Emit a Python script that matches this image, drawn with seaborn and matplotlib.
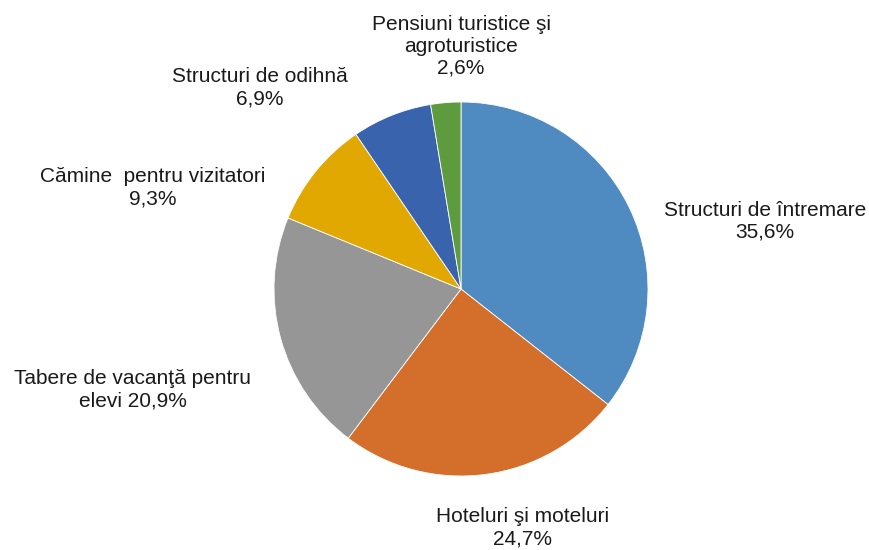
import matplotlib
matplotlib.use("Agg")
import matplotlib.pyplot as plt
import seaborn as sns

sns.set_theme(style="white")
plt.rcParams['font.family'] = ['Liberation Sans', 'DejaVu Sans']

categories = ["Structuri de întremare", "Hoteluri şi moteluri", "Tabere de vacanţă pentru elevi",
              "Cămine  pentru vizitatori", "Structuri de odihnă", "Pensiuni turistice şi agroturistice"]
values = [35.6, 24.7, 20.9, 9.3, 6.9, 2.6]
label_texts = ["Structuri de întremare\n35,6%", "Hoteluri şi moteluri\n24,7%",
               "Tabere de vacanţă pentru\nelevi 20,9%", "Cămine  pentru vizitatori\n9,3%",
               "Structuri de odihnă\n6,9%", "Pensiuni turistice şi\nagroturistice\n2,6%"]
colors = ["#4F8BC1", "#D36F2A", "#969696", "#E0A800", "#3A63AE", "#5E9B3E"]
# label centre positions in pixels (x, y from top)
label_pos = [(765, 221), (523, 528), (133, 390), (153, 188), (260, 88), (461, 46)]

W, H = 869, 550
fig = plt.figure(figsize=(W / 100, H / 100), dpi=100)
cx, cy, r = 461, 289, 187
ax = fig.add_axes([(cx - r) / W, (H - cy - r) / H, 2 * r / W, 2 * r / H])
ax.pie(values, colors=colors, startangle=90, counterclock=False, radius=1,
       wedgeprops=dict(linewidth=0.6, edgecolor="white"))
ax.set_xlim(-1, 1)
ax.set_ylim(-1, 1)
ax.set_aspect("equal")
ax.axis("off")

for t, (px, py) in zip(label_texts, label_pos):
    fig.text(px / W, 1 - py / H, t, ha="center", va="center", fontsize=15,
             color="#1a1a1a", linespacing=1.2)

fig.savefig("out.png", dpi=100)
